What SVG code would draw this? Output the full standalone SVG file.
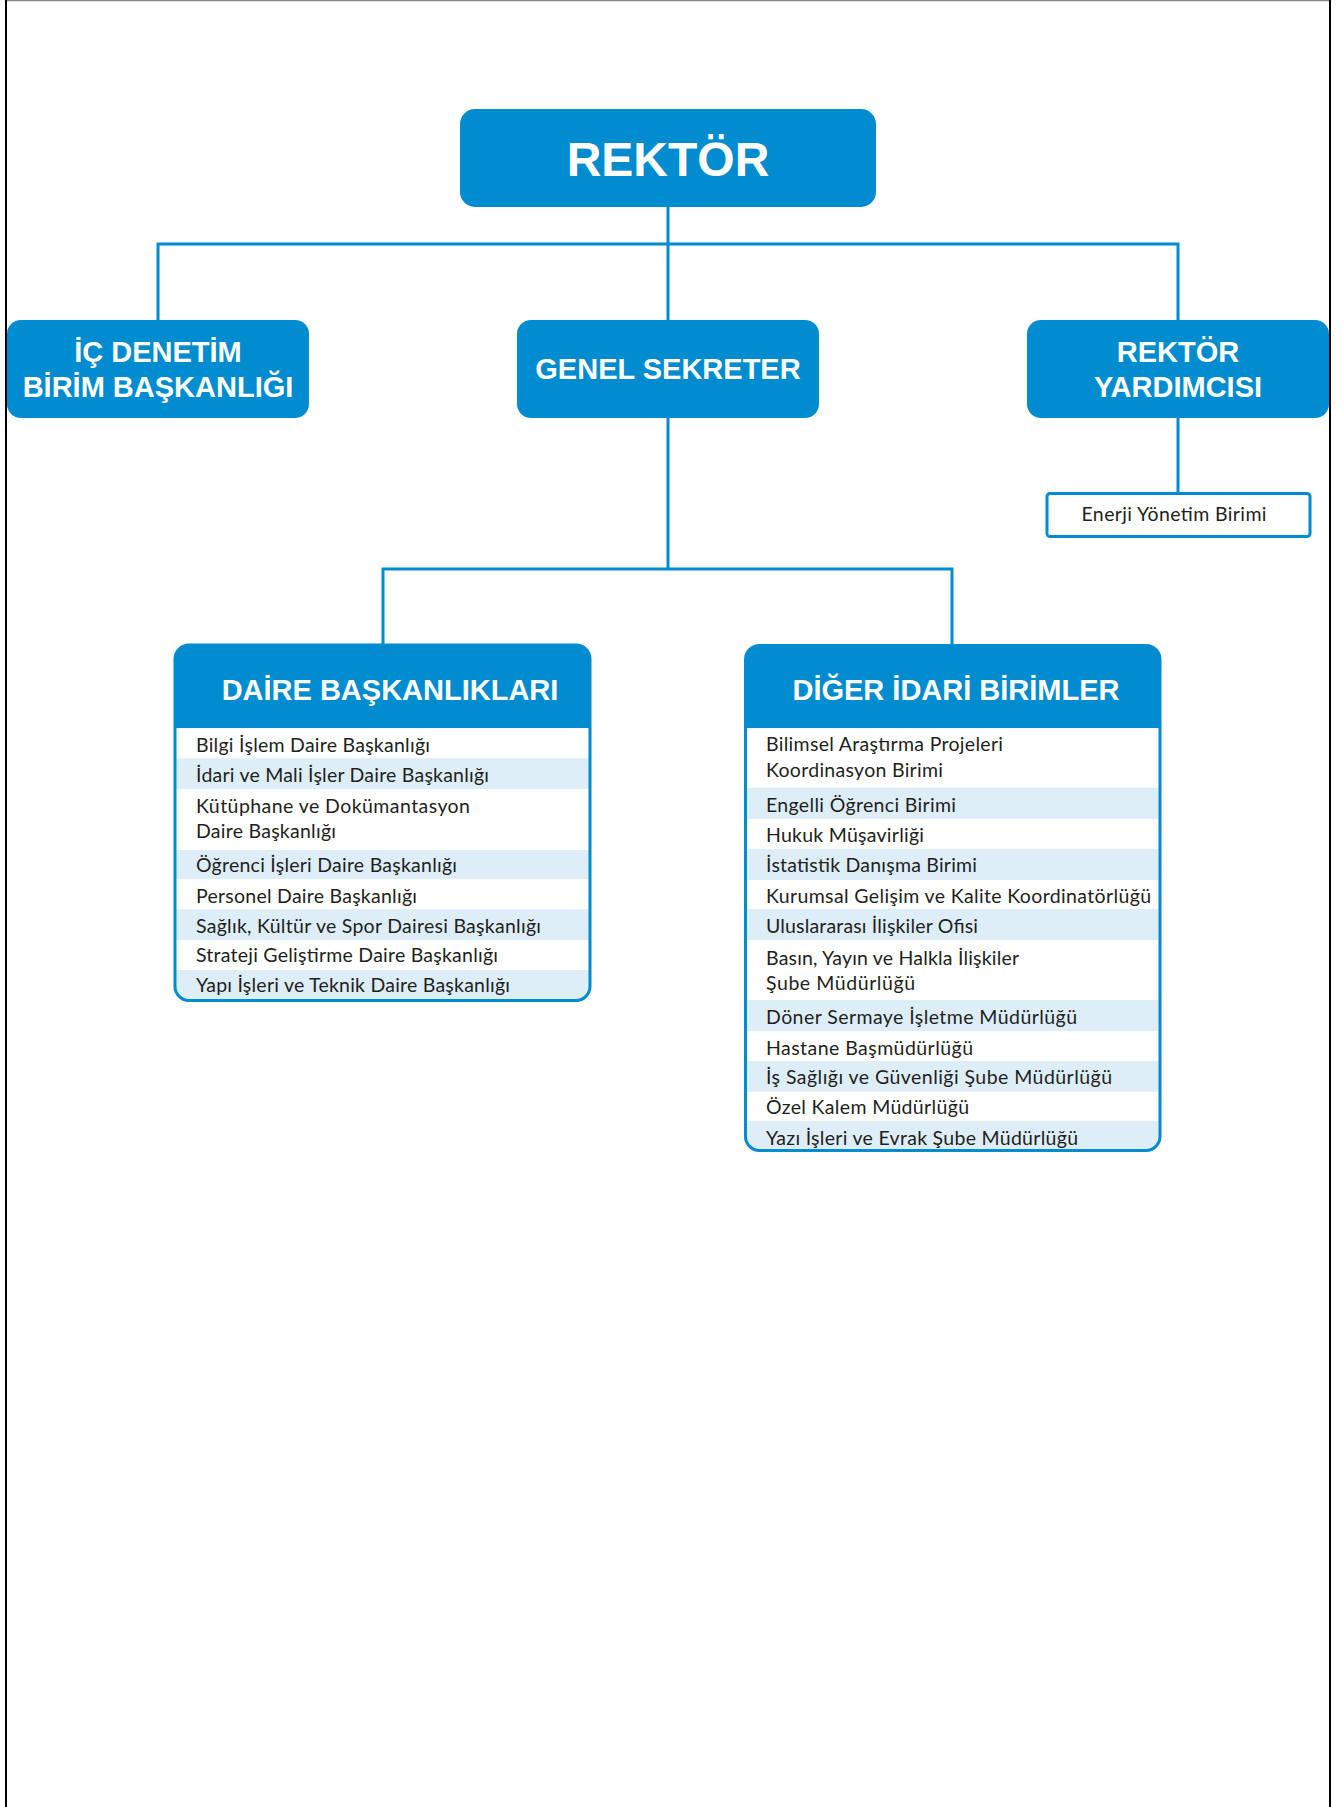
<svg xmlns="http://www.w3.org/2000/svg" width="1343" height="1807" viewBox="0 0 1343 1807">
<style>
.hb{fill:#008ccf}
.ht{fill:#ffffff;font-family:"Liberation Sans",Arial,sans-serif;font-weight:bold;text-anchor:middle}
.lt{fill:#231f20;font-family:Lato,"Open Sans",sans-serif;font-size:19.5px}
.row{fill:#ddeef9}
.conn{stroke:#008ccf;stroke-width:3;fill:none}
.frame{stroke:#008ccf;stroke-width:3;fill:none}
</style>
<defs>
<clipPath id="clipDaire"><rect x="175" y="645" width="415" height="355.5" rx="14"/></clipPath>
<clipPath id="clipDiger"><rect x="745.5" y="645.5" width="414.5" height="505" rx="14"/></clipPath>
</defs>
<rect x="0" y="0" width="1343" height="1807" fill="#ffffff"/>
<g id="page-border">
<line x1="5" y1="0.5" x2="1331" y2="0.5" stroke="#888888" stroke-width="1.5"/>
<line x1="6" y1="0" x2="6" y2="1807" stroke="#000000" stroke-width="2"/>
<line x1="1330" y1="0" x2="1330" y2="1807" stroke="#000000" stroke-width="2"/>
</g>
<g id="connectors">
<line class="conn" x1="668" y1="207" x2="668" y2="320"/>
<polyline class="conn" points="158,320 158,244 1178,244 1178,320"/>
<line class="conn" x1="668" y1="418" x2="668" y2="569"/>
<polyline class="conn" points="383,644 383,569 952,569 952,644"/>
<line class="conn" x1="1178" y1="418" x2="1178" y2="492"/>
</g>
<g id="rektor">
<rect class="hb" x="460" y="109" width="416" height="98" rx="15"/>
<text class="ht" x="668" y="176" font-size="48">REKTÖR</text>
</g>
<g id="ic-denetim">
<rect class="hb" x="7" y="320" width="302" height="98" rx="14"/>
<text class="ht" x="158" y="362" font-size="29">İÇ DENETİM</text>
<text class="ht" x="158" y="397" font-size="29">BİRİM BAŞKANLIĞI</text>
</g>
<g id="genel-sekreter">
<rect class="hb" x="517" y="320" width="302" height="98" rx="14"/>
<text class="ht" x="668" y="379" font-size="29">GENEL SEKRETER</text>
</g>
<g id="rektor-yardimcisi">
<rect class="hb" x="1027" y="320" width="302" height="98" rx="14"/>
<text class="ht" x="1178" y="362" font-size="29">REKTÖR</text>
<text class="ht" x="1178" y="397" font-size="29">YARDIMCISI</text>
</g>
<g id="enerji">
<rect x="1047" y="493.5" width="263" height="43" rx="3" fill="#ffffff" stroke="#008ccf" stroke-width="3"/>
<text class="lt" x="1174" y="521" text-anchor="middle" textLength="185">Enerji Yönetim Birimi</text>
</g>
<g id="daire-baskanliklari">
<g clip-path="url(#clipDaire)">
<rect x="175" y="645" width="415" height="356" fill="#ffffff"/>
<rect class="hb" x="173" y="643" width="420" height="85"/>
<rect class="row" x="173" y="758.3" width="420" height="30.7"/>
<rect class="row" x="173" y="850" width="420" height="29"/>
<rect class="row" x="173" y="909.3" width="420" height="30.7"/>
<rect class="row" x="173" y="970" width="420" height="32"/>
</g>
<rect class="frame" x="175" y="645" width="415" height="355.5" rx="14"/>
<text class="ht" x="390" y="700" font-size="29">DAİRE BAŞKANLIKLARI</text>
<text class="lt" x="196" y="752" textLength="234">Bilgi İşlem Daire Başkanlığı</text>
<text class="lt" x="196" y="782" textLength="293">İdari ve Mali İşler Daire Başkanlığı</text>
<text class="lt" x="196" y="813" textLength="274">Kütüphane ve Dokümantasyon</text>
<text class="lt" x="196" y="837.5" textLength="140">Daire Başkanlığı</text>
<text class="lt" x="196" y="872" textLength="261">Öğrenci İşleri Daire Başkanlığı</text>
<text class="lt" x="196" y="903" textLength="221">Personel Daire Başkanlığı</text>
<text class="lt" x="196" y="933" textLength="345">Sağlık, Kültür ve Spor Dairesi Başkanlığı</text>
<text class="lt" x="196" y="962" textLength="302">Strateji Geliştirme Daire Başkanlığı</text>
<text class="lt" x="196" y="992" textLength="314">Yapı İşleri ve Teknik Daire Başkanlığı</text>
</g>
<g id="diger-idari-birimler">
<g clip-path="url(#clipDiger)">
<rect x="745.5" y="645.5" width="414.5" height="505" fill="#ffffff"/>
<rect class="hb" x="743" y="643" width="420" height="85"/>
<rect class="row" x="743" y="787.7" width="420" height="31.3"/>
<rect class="row" x="743" y="849" width="420" height="31"/>
<rect class="row" x="743" y="909" width="420" height="31"/>
<rect class="row" x="743" y="1000" width="420" height="31"/>
<rect class="row" x="743" y="1061" width="420" height="30.7"/>
<rect class="row" x="743" y="1121" width="420" height="32"/>
</g>
<rect class="frame" x="745.5" y="645.5" width="414.5" height="505" rx="14"/>
<text class="ht" x="956" y="700" font-size="29">DİĞER İDARİ BİRİMLER</text>
<text class="lt" x="766" y="751" textLength="237">Bilimsel Araştırma Projeleri</text>
<text class="lt" x="766" y="777" textLength="177">Koordinasyon Birimi</text>
<text class="lt" x="766" y="812" textLength="190">Engelli Öğrenci Birimi</text>
<text class="lt" x="766" y="842" textLength="158">Hukuk Müşavirliği</text>
<text class="lt" x="766" y="872" textLength="211">İstatistik Danışma Birimi</text>
<text class="lt" x="766" y="903" textLength="385">Kurumsal Gelişim ve Kalite Koordinatörlüğü</text>
<text class="lt" x="766" y="933" textLength="212">Uluslararası İlişkiler Ofisi</text>
<text class="lt" x="766" y="964.5" textLength="253">Basın, Yayın ve Halkla İlişkiler</text>
<text class="lt" x="766" y="989.5" textLength="149">Şube Müdürlüğü</text>
<text class="lt" x="766" y="1023.5" textLength="311">Döner Sermaye İşletme Müdürlüğü</text>
<text class="lt" x="766" y="1055" textLength="207">Hastane Başmüdürlüğü</text>
<text class="lt" x="766" y="1084" textLength="346">İş Sağlığı ve Güvenliği Şube Müdürlüğü</text>
<text class="lt" x="766" y="1114" textLength="203">Özel Kalem Müdürlüğü</text>
<text class="lt" x="766" y="1145" textLength="312">Yazı İşleri ve Evrak Şube Müdürlüğü</text>
</g>
</svg>
